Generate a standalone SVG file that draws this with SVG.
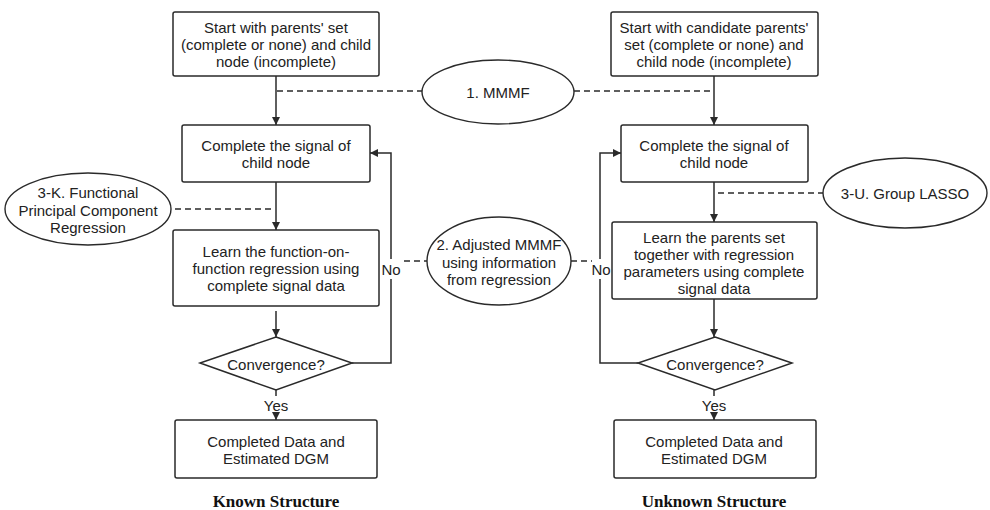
<svg xmlns="http://www.w3.org/2000/svg" width="990" height="510" viewBox="0 0 990 510">
<style>
.bx{fill:#fff;stroke:#2a2a2a;stroke-width:1.5}
.el{fill:#fff;stroke:#2a2a2a;stroke-width:1.4}
.t{font-family:"Liberation Sans",Arial,sans-serif;font-size:15px;fill:#222;text-anchor:middle;dominant-baseline:central}
.ti{font-family:"Liberation Serif","Times New Roman",serif;font-size:17px;font-weight:bold;fill:#111;text-anchor:middle;dominant-baseline:central}
.ln{fill:none;stroke:#2a2a2a;stroke-width:1.5}
.ds{fill:none;stroke:#2a2a2a;stroke-width:1.3;stroke-dasharray:6,4}
</style>
<defs>
<marker id="ah" viewBox="0 0 10 10" refX="10" refY="5" markerWidth="8" markerHeight="8" markerUnits="userSpaceOnUse" orient="auto">
<path d="M0,0 L10,5 L0,10 z" fill="#2a2a2a"/>
</marker>
</defs>
<rect width="990" height="510" fill="#fff"/>

<g id="connectors">
<!-- left column -->
<line class="ln" x1="276" y1="76" x2="276" y2="125" marker-end="url(#ah)"/>
<line class="ln" x1="276" y1="182" x2="276" y2="230" marker-end="url(#ah)"/>
<line class="ln" x1="276" y1="311" x2="276" y2="337" marker-end="url(#ah)"/>
<line class="ln" x1="276" y1="390" x2="276" y2="396"/>
<line class="ln" x1="276" y1="413" x2="276" y2="420" marker-end="url(#ah)"/>
<path class="ln" d="M352,363 H391 V279"/>
<path class="ln" d="M391,259 V153 H370" marker-end="url(#ah)"/>
<!-- right column -->
<line class="ln" x1="714" y1="76" x2="714" y2="125" marker-end="url(#ah)"/>
<line class="ln" x1="714" y1="182" x2="714" y2="222" marker-end="url(#ah)"/>
<line class="ln" x1="714" y1="299" x2="714" y2="337" marker-end="url(#ah)"/>
<line class="ln" x1="714" y1="390" x2="714" y2="396"/>
<line class="ln" x1="714" y1="413" x2="714" y2="420" marker-end="url(#ah)"/>
<path class="ln" d="M638,363 H600 V279"/>
<path class="ln" d="M600,259 V153 H621" marker-end="url(#ah)"/>
<!-- dashed links -->
<line class="ds" x1="277" y1="91" x2="423" y2="91"/>
<line class="ds" x1="574" y1="91" x2="713" y2="91"/>
<line class="ds" x1="175" y1="209" x2="272" y2="209"/>
<line class="ds" x1="718" y1="193" x2="823" y2="193"/>
<line class="ds" x1="404" y1="261" x2="428" y2="261"/>
<line class="ds" x1="571" y1="261" x2="592" y2="261"/>
<text class="t" x="391" y="269">No</text>
<text class="t" x="601" y="269">No</text>
<text class="t" x="276" y="405">Yes</text>
<text class="t" x="714" y="405">Yes</text>
</g>

<g id="n_start_known">
<rect class="bx" x="173" y="12" width="206" height="64" rx="2"/>
<text class="t" x="276" y="27">Start with parents' set</text>
<text class="t" x="276" y="44">(complete or none) and child</text>
<text class="t" x="276" y="61">node (incomplete)</text>
</g>
<g id="n_start_unknown">
<rect class="bx" x="611" y="12" width="207" height="64" rx="2"/>
<text class="t" x="714" y="27">Start with candidate parents'</text>
<text class="t" x="714" y="44">set (complete or none) and</text>
<text class="t" x="714" y="61">child node (incomplete)</text>
</g>
<g id="n_mmmf">
<ellipse class="el" cx="498" cy="92" rx="76" ry="32"/>
<text class="t" x="498" y="92">1. MMMF</text>
</g>
<g id="n_complete_known">
<rect class="bx" x="182" y="125" width="188" height="57" rx="2"/>
<text class="t" x="276" y="145">Complete the signal of</text>
<text class="t" x="276" y="162">child node</text>
</g>
<g id="n_complete_unknown">
<rect class="bx" x="621" y="125" width="187" height="57" rx="2"/>
<text class="t" x="714" y="145">Complete the signal of</text>
<text class="t" x="714" y="162">child node</text>
</g>
<g id="n_fpcr">
<ellipse class="el" cx="88" cy="209" rx="83" ry="36"/>
<text class="t" x="88" y="192">3-K. Functional</text>
<text class="t" x="88" y="210">Principal Component</text>
<text class="t" x="88" y="227">Regression</text>
</g>
<g id="n_lasso">
<ellipse class="el" cx="905" cy="193" rx="82" ry="35"/>
<text class="t" x="905" y="193">3-U. Group LASSO</text>
</g>
<g id="n_learn_known">
<rect class="bx" x="173" y="230" width="206" height="76" rx="2"/>
<text class="t" x="276" y="251">Learn the function-on-</text>
<text class="t" x="276" y="268">function regression using</text>
<text class="t" x="276" y="285">complete signal data</text>
</g>
<g id="n_learn_unknown">
<rect class="bx" x="612" y="222" width="205" height="77" rx="2"/>
<text class="t" x="714" y="237">Learn the parents set</text>
<text class="t" x="714" y="254">together with regression</text>
<text class="t" x="714" y="271">parameters using complete</text>
<text class="t" x="714" y="288">signal data</text>
</g>
<g id="n_adjusted">
<ellipse class="el" cx="499" cy="261" rx="72" ry="44"/>
<text class="t" x="499" y="244">2. Adjusted MMMF</text>
<text class="t" x="499" y="262">using information</text>
<text class="t" x="499" y="279">from regression</text>
</g>
<g id="n_conv_known">
<polygon class="bx" points="276,337 352,363 276,390 200,363"/>
<text class="t" x="276" y="364">Convergence?</text>
</g>
<g id="n_conv_unknown">
<polygon class="bx" points="715,337 792,363 715,390 638,363"/>
<text class="t" x="715" y="364">Convergence?</text>
</g>
<g id="n_result_known">
<rect class="bx" x="175" y="420" width="202" height="58" rx="2"/>
<text class="t" x="276" y="441">Completed Data and</text>
<text class="t" x="276" y="458">Estimated DGM</text>
</g>
<g id="n_result_unknown">
<rect class="bx" x="614" y="420" width="202" height="58" rx="2"/>
<text class="t" x="714" y="441">Completed Data and</text>
<text class="t" x="714" y="458">Estimated DGM</text>
</g>
<g id="titles">
<text class="ti" x="276" y="501">Known Structure</text>
<text class="ti" x="714" y="501">Unknown Structure</text>
</g>
</svg>
